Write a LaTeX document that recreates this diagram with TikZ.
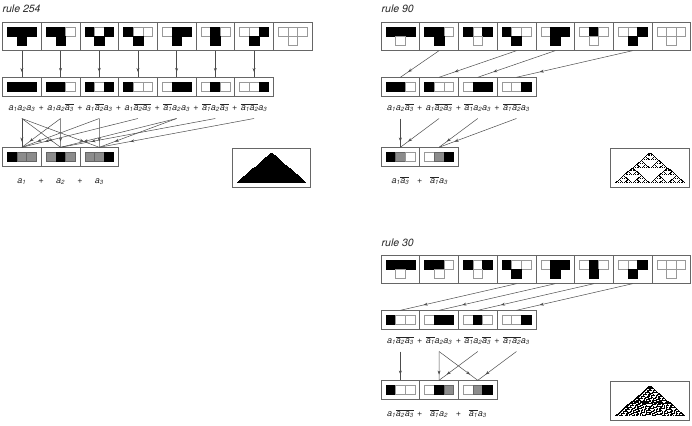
\documentclass[tikz,border=0pt]{standalone}
\usepackage{fontspec}
\setmainfont{TeX Gyre Heros}
\usetikzlibrary{arrows.meta,
calc,
positioning,
decorations.markings}

\tikzset{
	rulecell/.style={draw=black!60, line width=0.6pt, minimum width=38.7pt, minimum height=28.7pt, inner sep=0pt, outer sep=0pt},
	triocell/.style={rulecell, minimum height=19.3pt},
	runbox/.style={draw=black!60, line width=0.6pt, minimum width=78.5pt, minimum height=39pt, inner sep=0pt, outer sep=0pt},
	heading/.style={font=\fontsize{10.5}{12}\selectfont\itshape, text=black!85, inner sep=0pt, anchor=base west},
	term/.style={font=\fontsize{9}{10}\selectfont\itshape, text=black!85, inner sep=1pt, text height=7.5pt, text depth=7pt},
	link/.style={color=black!70, line width=0.5pt, postaction={decorate},
		decoration={markings, mark=at position 0.8 with {\arrow{Stealth[length=4pt,width=3pt]}}}}
}

% variables of a term
\newcommand\av[1]{a\textsubscript{#1}}
\newcommand\nv[1]{$\overline{\hbox{a\textsubscript{#1}}}$}

% one small square: 0 white, 1 black, 2 either
\newcommand\cellsq[4]{%
	\ifcase#1\relax\def\sqfill{white}\def\sqline{black!40}%
	\or\def\sqfill{black}\def\sqline{black}%
	\or\def\sqfill{black!45}\def\sqline{black!60}\fi
	\path[fill=\sqfill, draw=\sqline, line width=0.35pt] ([shift={(#3,#4)}]#2.center) rectangle ++(9.6,9.3);}
\newcommand\nbhd[5]{% cell, left, centre, right, new centre
	\cellsq{#2}{#1}{-14.4}{-9.3}\cellsq{#3}{#1}{-4.8}{-9.3}\cellsq{#4}{#1}{4.8}{-9.3}\cellsq{#5}{#1}{-4.8}{0}}
\newcommand\trio[4]{% cell, left, centre, right
	\cellsq{#2}{#1}{-14.4}{-4.65}\cellsq{#3}{#1}{-4.8}{-4.65}\cellsq{#4}{#1}{4.8}{-4.65}}

% evolution from one black cell
\newcommand\cellof[3]{\ifcsname ca#1@#2@#3\endcsname\csname ca#1@#2@#3\endcsname\else0\fi}
\newcommand\evolve[5]{% rule, rows, apex, cell width, cell height
	\foreach \bitno in {0,...,7}{%
		\pgfmathtruncatemacro\rbit{mod(floor(#1/2^\bitno),2)}%
		\expandafter\xdef\csname rb#1@\bitno\endcsname{\rbit}}%
	\expandafter\xdef\csname ca#1@0@0\endcsname{1}%
	\fill ([shift={(-0.5*#4,0)}]#3) rectangle ++(#4,#5);
	\foreach \ry in {1,...,#2}{%
		\pgfmathtruncatemacro\prevrow{\ry-1}%
		\pgfmathtruncatemacro\negrow{-\ry}%
		\foreach \cx in {\negrow,...,\ry}{%
			\expandafter\xdef\csname ca#1@\ry @\cx\endcsname{\csname rb#1@\the\numexpr
				4*\cellof{#1}{\prevrow}{\the\numexpr\cx-1\relax}
				+2*\cellof{#1}{\prevrow}{\cx}
				+\cellof{#1}{\prevrow}{\the\numexpr\cx+1\relax}\relax\endcsname}%
			\ifnum\csname ca#1@\ry @\cx\endcsname=1
				\fill ([shift={({(\cx-0.5)*#4},{\ry*#5})}]#3) rectangle ++(#4+0.15,#5+0.15);
			\fi}}}

\begin{document}
\begin{tikzpicture}[x=1pt, y=-1pt]
	\useasboundingbox (0,0) rectangle (692,425);

	% rule 254
	\node[heading] (r254name) at (2.5,13) {rule 254};
	\foreach \pa/\pb/\pc/\pn [count=\i] in {1/1/1/1, 1/1/0/1, 1/0/1/1, 1/0/0/1, 0/1/1/1, 0/1/0/1, 0/0/1/1, 0/0/0/0} {
		\node[rulecell] (r254top\i) at ({2.5+38.7*(\i-0.5)},36.35) {};
		\nbhd{r254top\i}{\pa}{\pb}{\pc}{\pn}
	}
	\foreach \pa/\pb/\pc [count=\i] in {1/1/1, 1/1/0, 1/0/1, 1/0/0, 0/1/1, 0/1/0, 0/0/1} {
		\node[triocell, below=26.6pt of r254top\i] (r254mix\i) {};
		\trio{r254mix\i}{\pa}{\pb}{\pc}
		\draw[link] (r254top\i) -- (r254mix\i);
	}
	\node[term, below=5pt of r254mix1] (r254term1) {\av1\av2\av3};
	\node[term, below=5pt of r254mix2] (r254term2) {\av1\av2\nv3};
	\node[term, below=5pt of r254mix3] (r254term3) {\av1\nv2\av3};
	\node[term, below=5pt of r254mix4] (r254term4) {\av1\nv2\nv3};
	\node[term, below=5pt of r254mix5] (r254term5) {\nv1\av2\av3};
	\node[term, below=5pt of r254mix6] (r254term6) {\nv1\av2\nv3};
	\node[term, below=5pt of r254mix7] (r254term7) {\nv1\nv2\av3};
	\foreach \i [evaluate=\i as \j using int(\i+1)] in {1,...,6}
		\node[term] (r254plus\i) at ($(r254term\i)!0.5!(r254term\j)$) {+};
	\node[triocell, below=50.7pt of r254mix1] (r254sum1) {};
	\node[triocell, right=0pt of r254sum1] (r254sum2) {};
	\node[triocell, right=0pt of r254sum2] (r254sum3) {};
	\trio{r254sum1}{1}{2}{2}
	\trio{r254sum2}{2}{1}{2}
	\trio{r254sum3}{2}{2}{1}
	\foreach \src/\dst in {1/1, 1/2, 1/3, 2/1, 2/2, 3/1, 3/3, 4/1, 5/2, 5/3, 6/2, 7/3}
		\draw[link] (r254term\src.south) -- (r254sum\dst.north);
	\node[term, below=8pt of r254sum1] (r254lab1) {\av1};
	\node[term, below=8pt of r254sum2] (r254lab2) {\av2};
	\node[term, below=8pt of r254sum3] (r254lab3) {\av3};
	\node[term] (r254labplus1) at (r254sum1.east |- r254lab1) {+};
	\node[term] (r254labplus2) at (r254sum2.east |- r254lab2) {+};
	\node[runbox] (r254run) at (271.5,167.5) {};
	\coordinate (r254apex) at ([yshift=-4.5pt]r254run.north);
	\evolve{254}{31}{r254apex}{1.1}{0.94}

	% rule 90
	\node[heading] (r90name) at (381.5,13) {rule 90};
	\foreach \pa/\pb/\pc/\pn [count=\i] in {1/1/1/0, 1/1/0/1, 1/0/1/0, 1/0/0/1, 0/1/1/1, 0/1/0/0, 0/0/1/1, 0/0/0/0} {
		\node[rulecell] (r90top\i) at ({381+38.7*(\i-0.5)},36.35) {};
		\nbhd{r90top\i}{\pa}{\pb}{\pc}{\pn}
	}
	\foreach \pa/\pb/\pc [count=\i] in {1/1/0, 1/0/0, 0/1/1, 0/0/1} {
		\node[triocell, below=26.6pt of r90top\i] (r90mix\i) {};
		\trio{r90mix\i}{\pa}{\pb}{\pc}
	}
	\foreach \src/\dst in {2/1, 4/2, 5/3, 7/4}
		\draw[link] (r90top\src.south) -- (r90mix\dst.north);
	\node[term, below=5pt of r90mix1] (r90term1) {\av1\av2\nv3};
	\node[term, below=5pt of r90mix2] (r90term2) {\av1\nv2\nv3};
	\node[term, below=5pt of r90mix3] (r90term3) {\nv1\av2\av3};
	\node[term, below=5pt of r90mix4] (r90term4) {\nv1\nv2\av3};
	\foreach \i [evaluate=\i as \j using int(\i+1)] in {1,...,3}
		\node[term] (r90plus\i) at ($(r90term\i)!0.5!(r90term\j)$) {+};
	\node[triocell, below=50.7pt of r90mix1] (r90sum1) {};
	\node[triocell, right=0pt of r90sum1] (r90sum2) {};
	\trio{r90sum1}{1}{2}{0}
	\trio{r90sum2}{0}{2}{1}
	\foreach \src/\dst in {1/1, 2/1, 3/2, 4/2}
		\draw[link] (r90term\src.south) -- (r90sum\dst.north);
	\node[term, below=8pt of r90sum1] (r90lab1) {\av1\nv3};
	\node[term, below=8pt of r90sum2] (r90lab2) {\nv1\av3};
	\node[term] (r90labplus1) at (r90sum1.east |- r90lab1) {+};
	\node[runbox] (r90run) at (650,167.5) {};
	\coordinate (r90apex) at ([yshift=-4.5pt]r90run.north);
	\evolve{90}{31}{r90apex}{1.1}{0.94}

	% rule 30
	\node[heading] (r30name) at (381.5,246) {rule 30};
	\foreach \pa/\pb/\pc/\pn [count=\i] in {1/1/1/0, 1/1/0/0, 1/0/1/0, 1/0/0/1, 0/1/1/1, 0/1/0/1, 0/0/1/1, 0/0/0/0} {
		\node[rulecell] (r30top\i) at ({381+38.7*(\i-0.5)},269.35) {};
		\nbhd{r30top\i}{\pa}{\pb}{\pc}{\pn}
	}
	\foreach \pa/\pb/\pc [count=\i] in {1/0/0, 0/1/1, 0/1/0, 0/0/1} {
		\node[triocell, below=26.6pt of r30top\i] (r30mix\i) {};
		\trio{r30mix\i}{\pa}{\pb}{\pc}
	}
	\foreach \src/\dst in {4/1, 5/2, 6/3, 7/4}
		\draw[link] (r30top\src.south) -- (r30mix\dst.north);
	\node[term, below=5pt of r30mix1] (r30term1) {\av1\nv2\nv3};
	\node[term, below=5pt of r30mix2] (r30term2) {\nv1\av2\av3};
	\node[term, below=5pt of r30mix3] (r30term3) {\nv1\av2\nv3};
	\node[term, below=5pt of r30mix4] (r30term4) {\nv1\nv2\av3};
	\foreach \i [evaluate=\i as \j using int(\i+1)] in {1,...,3}
		\node[term] (r30plus\i) at ($(r30term\i)!0.5!(r30term\j)$) {+};
	\node[triocell, below=50.7pt of r30mix1] (r30sum1) {};
	\node[triocell, right=0pt of r30sum1] (r30sum2) {};
	\node[triocell, right=0pt of r30sum2] (r30sum3) {};
	\trio{r30sum1}{1}{0}{0}
	\trio{r30sum2}{0}{1}{2}
	\trio{r30sum3}{0}{2}{1}
	\foreach \src/\dst in {1/1, 2/2, 3/2, 2/3, 4/3}
		\draw[link] (r30term\src.south) -- (r30sum\dst.north);
	\node[term, below=8pt of r30sum1] (r30lab1) {\av1\nv2\nv3};
	\node[term, below=8pt of r30sum2] (r30lab2) {\nv1\av2};
	\node[term, below=8pt of r30sum3] (r30lab3) {\nv1\av3};
	\node[term] (r30labplus1) at (r30sum1.east |- r30lab1) {+};
	\node[term] (r30labplus2) at (r30sum2.east |- r30lab2) {+};
	\node[runbox] (r30run) at (650,400.5) {};
	\coordinate (r30apex) at ([yshift=-4.5pt]r30run.north);
	\evolve{30}{31}{r30apex}{1.1}{0.94}
\end{tikzpicture}
\end{document}
